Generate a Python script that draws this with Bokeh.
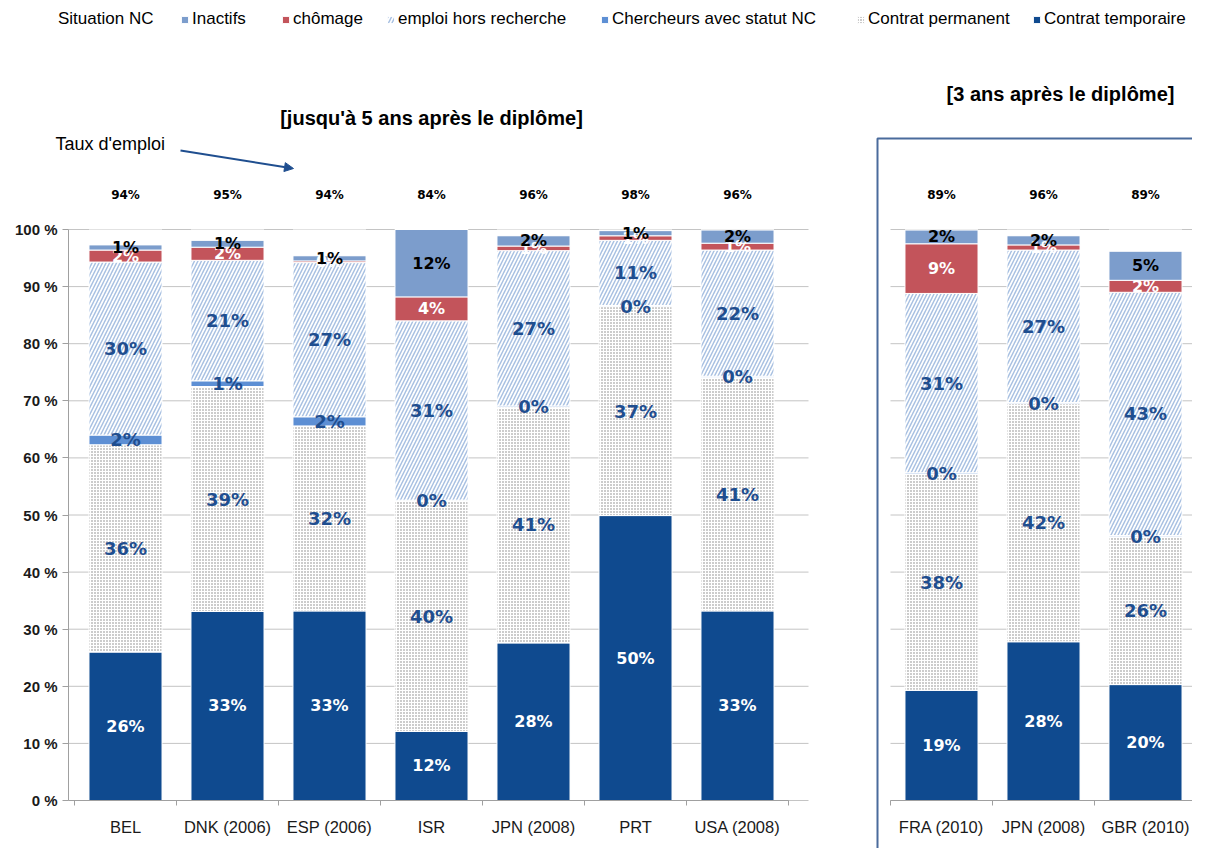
import numpy as np
from bokeh.plotting import figure
from bokeh.models import (ColumnDataSource, Range1d, FixedTicker, LinearAxis,
                          Legend, LegendItem, Arrow, NormalHead, PrintfTickFormatter)
from bokeh.embed import file_html
from bokeh.resources import INLINE
from bokeh.core.properties import value

# ---------------- data (percent of doctorate holders) ----------------
categories_left = ["BEL", "DNK (2006)", "ESP (2006)", "ISR", "JPN (2008)", "PRT", "USA (2008)"]
temporaire_left = [26.0, 33.1, 33.2, 12.1, 27.6, 49.9, 33.2]
permanent_left = [36.3, 39.4, 32.4, 40.4, 41.3, 36.6, 40.9]
chercheurs_nc_left = [1.7, 1.0, 1.6, 0.1, 0.2, 0.2, 0.2]
hors_recherche_left = [30.3, 21.1, 27.0, 31.4, 27.2, 11.4, 22.1]
chomage_left = [2.1, 2.3, 0.3, 4.2, 0.8, 0.8, 1.2]
inactifs_left = [0.9, 1.2, 0.9, 11.8, 1.8, 0.9, 2.3]
taux_emploi_left = [94, 95, 94, 84, 96, 98, 96]

categories_right = ["FRA (2010)", "JPN (2008)", "GBR (2010)"]
temporaire_right = [19.3, 27.8, 20.3]
permanent_right = [37.9, 41.7, 25.9]
chercheurs_nc_right = [0.2, 0.2, 0.2]
hors_recherche_right = [31.4, 26.7, 42.6]
chomage_right = [8.7, 0.9, 2.1]
inactifs_right = [2.4, 1.6, 5.1]
taux_emploi_right = [89, 96, 89]

y_ticks = list(range(0, 101, 10))

# ---------------- styles ----------------
DARK = "#0f4a8f"
LBL_BLUE = "#1f4e8f"
SERIES = [
    ("Contrat temporaire", dict(fill_color=DARK), "white", "16px"),
    ("Contrat permanent", dict(fill_color="white", hatch_pattern="dot", hatch_color="#808080",
                               hatch_scale=3, hatch_weight=1), LBL_BLUE, "18px"),
    ("Chercheurs avec statut NC", dict(fill_color="#5d8fd4"), LBL_BLUE, "18px"),
    ("emploi hors recherche", dict(fill_color="white", hatch_pattern="right_diagonal_line",
                                   hatch_color="#a9c1e2", hatch_scale=7, hatch_weight=1.5), LBL_BLUE, "18px"),
    ("chômage", dict(fill_color="#c3545b"), "white", "16px"),
    ("Inactifs", dict(fill_color="#7c9dcc"), "black", "16px"),
]
NC_STYLE = dict(fill_color="white")

# ---------------- geometry (one frame covering the whole canvas) ----------------
W, H = 1192, 848
UX = 102.0            # px per category slot
X0 = 125.0            # canvas x of first category centre
PY = 5.71             # px per percent
Y0 = 800.0            # canvas y of 0 %
RIGHT_OFFSET = 8      # slot index of first category of the 3-year panel
BAR_W = 0.716
GRID_COLOR = "#c4c4c4"
AXIS_COLOR = "#a0a0a0"


def px_x(cx):
    return (cx - X0) / UX


def px_y(cy):
    return (Y0 - cy) / PY


p = figure(width=W, height=H, output_backend="svg", toolbar_location=None,
           x_range=Range1d(px_x(0), px_x(W)), y_range=Range1d(px_y(H), px_y(0)),
           x_axis_location=None, y_axis_location=None,
           min_border_left=0, min_border_right=0, min_border_top=0, min_border_bottom=0)
p.outline_line_color = None
p.grid.visible = False

# grid lines, one set per panel
left_edge, left_end = px_x(68), px_x(808)
right_edge, right_end = RIGHT_OFFSET - 0.5, RIGHT_OFFSET + 2.49
gsrc = ColumnDataSource(dict(
    x0=[left_edge] * len(y_ticks) + [right_edge] * len(y_ticks),
    x1=[left_end] * len(y_ticks) + [right_end] * len(y_ticks),
    y=y_ticks + y_ticks))
p.segment(x0="x0", x1="x1", y0="y", y1="y", source=gsrc, line_color=GRID_COLOR, line_width=1)

# frame of the 3-year panel (right and bottom edges fall outside the canvas)
p.quad(left=[px_x(877)], right=[px_x(1400)], bottom=[px_y(1000)], top=[px_y(138)],
       fill_color=None, line_color="#4a6b9c", line_width=2)


def draw_panel(offset, series_values, taux):
    n = len(taux)
    xs = [offset + i for i in range(n)]
    bottom = np.zeros(n)
    label_layers = []
    renderers = {}
    for (name, style, lcolor, lsize), vals in zip(SERIES, series_values):
        vals = np.array(vals, dtype=float)
        top = bottom + vals
        src = ColumnDataSource(dict(x=xs, bottom=bottom, top=top, mid=(bottom + top) / 2,
                                    lab=[f"{int(round(v))}%" for v in vals]))
        renderers[name] = p.vbar(x="x", bottom="bottom", top="top", width=BAR_W, source=src,
                                 line_color="white", line_width=1, **style)
        label_layers.append((src, lcolor, lsize))
        bottom = top
    nc_src = ColumnDataSource(dict(x=xs, bottom=bottom, top=[100.0] * n))
    renderers["Situation NC"] = p.vbar(x="x", bottom="bottom", top="top", width=BAR_W,
                                       source=nc_src, line_color=None, **NC_STYLE)
    for src, lcolor, lsize in label_layers:
        p.text(x="x", y="mid", text="lab", source=src, text_color=lcolor,
               text_font=value("DejaVu Sans"), text_font_style="bold", text_font_size=lsize,
               text_align="center", text_baseline="middle")
    tsrc = ColumnDataSource(dict(x=xs, y=[106.0] * n, lab=[f"{t}%" for t in taux]))
    p.text(x="x", y="y", text="lab", source=tsrc, text_color="black",
           text_font=value("DejaVu Sans"), text_font_style="bold", text_font_size="12px",
           text_align="center", text_baseline="middle")
    return renderers


rend = draw_panel(0, [temporaire_left, permanent_left, chercheurs_nc_left,
                      hors_recherche_left, chomage_left, inactifs_left], taux_emploi_left)
draw_panel(RIGHT_OFFSET, [temporaire_right, permanent_right, chercheurs_nc_right,
                          hors_recherche_right, chomage_right, inactifs_right], taux_emploi_right)


def make_xaxis(cats, offset, lo):
    n = len(cats)
    ticks = [offset + i for i in range(n)]
    ax = LinearAxis(fixed_location=0,
                    ticker=FixedTicker(ticks=ticks, minor_ticks=[offset + i - 0.5 for i in range(n + 1)]),
                    major_label_overrides={t: c for t, c in zip(ticks, cats)},
                    bounds=(lo, offset + n - 0.5))
    ax.major_tick_out = 0
    ax.major_tick_in = 0
    ax.minor_tick_out = 5
    ax.minor_tick_in = 0
    ax.minor_tick_line_color = AXIS_COLOR
    ax.axis_line_color = AXIS_COLOR
    ax.major_label_text_font = "Liberation Sans"
    ax.major_label_text_font_size = "16.5px"
    ax.major_label_text_color = "#1a1a1a"
    ax.major_label_standoff = 12
    return ax


p.add_layout(make_xaxis(categories_left, 0, px_x(68)), "below")
p.add_layout(make_xaxis(categories_right, RIGHT_OFFSET, RIGHT_OFFSET - 0.5), "below")

yax = LinearAxis(fixed_location=px_x(68), ticker=FixedTicker(ticks=y_ticks),
                 formatter=PrintfTickFormatter(format="%d %%"), bounds=(0, 100))
yax.minor_tick_line_color = None
yax.major_tick_out = 6
yax.major_tick_in = 0
yax.major_tick_line_color = AXIS_COLOR
yax.axis_line_color = AXIS_COLOR
yax.major_label_text_font = "Liberation Sans"
yax.major_label_text_font_style = "bold"
yax.major_label_text_font_size = "15px"
yax.major_label_text_color = "#1a1a1a"
yax.major_label_standoff = 5
p.add_layout(yax, "left")

# titles and annotation
p.text(x=[3.0], y=[px_y(117)], text=["[jusqu'à 5 ans après le diplôme]"],
       text_font=value("Liberation Sans"), text_font_style="bold", text_font_size="20px",
       text_color="black", text_align="center", text_baseline="middle")
p.text(x=[px_x(1060)], y=[px_y(93)], text=["[3 ans après le diplôme]"],
       text_font=value("Liberation Sans"), text_font_style="bold", text_font_size="20px",
       text_color="black", text_align="center", text_baseline="middle")
p.text(x=[px_x(55)], y=[px_y(143)], text=["Taux d'emploi"],
       text_font=value("Liberation Sans"), text_font_size="18px",
       text_color="black", text_align="left", text_baseline="middle")
p.add_layout(Arrow(end=NormalHead(size=9, fill_color=LBL_BLUE, line_color=LBL_BLUE),
                   x_start=px_x(180), y_start=px_y(150), x_end=px_x(293), y_end=px_y(168),
                   line_color=LBL_BLUE, line_width=2))

# legend (one entry per box so each sits where the reference puts it)
legend_order = [("Situation NC", 58), ("Inactifs", 192), ("chômage", 293),
                ("emploi hors recherche", 398), ("Chercheurs avec statut NC", 612),
                ("Contrat permanent", 868), ("Contrat temporaire", 1044)]
for name, text_x in legend_order:
    lg = Legend(items=[LegendItem(label=name, renderers=[rend[name]])],
                location=(text_x - 12, H - 29), orientation="horizontal",
                glyph_width=9, glyph_height=9, label_standoff=3,
                padding=0, margin=0, border_line_color=None, background_fill_alpha=0,
                label_text_font="Liberation Sans", label_text_font_size="17px",
                label_text_color="black", label_height=9)
    p.add_layout(lg, "center")

open("out.html", "w").write(file_html(p, INLINE))
